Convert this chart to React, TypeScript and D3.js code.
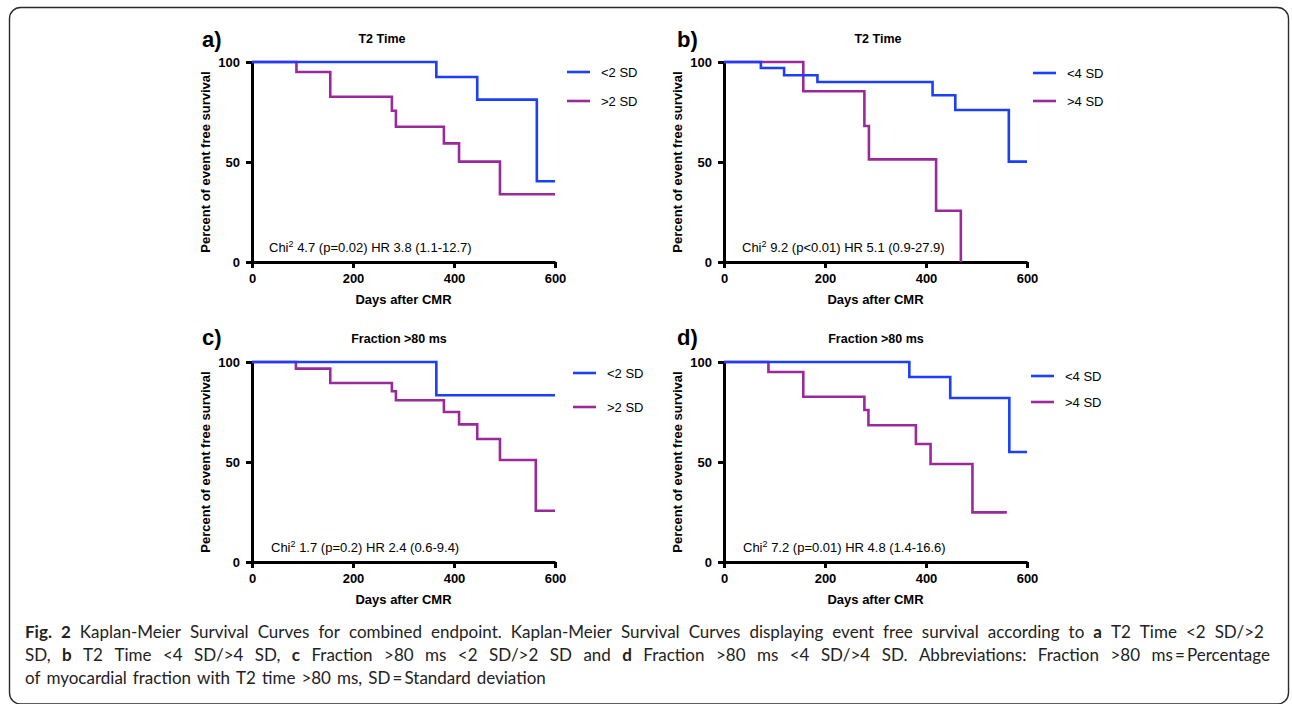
import React, { useEffect, useRef } from 'react';
import * as d3 from 'd3';

// ---- data ----
const xTicks = [0, 200, 400, 600];
const yTicks = [0, 50, 100];

// [days, percent event free survival] step points
const aLow: [number, number][] = [[0, 100], [365, 92.5], [446, 81.2], [564, 40.4], [600, 40.4]];
const aHigh: [number, number][] = [[0, 100], [88, 95], [155, 82.6], [277, 75.6], [285, 67.6], [380, 59.3], [410, 50.2], [491, 33.9], [600, 33.9]];
const bLow: [number, number][] = [[0, 100], [73, 97], [119, 93.4], [185, 90], [413, 83.4], [458, 76], [564, 50.2], [600, 50.2]];
const bHigh: [number, number][] = [[0, 100], [157, 85.4], [278, 68], [287, 51.3], [420, 25.6], [469, 0], [469, 0]];
const cLow: [number, number][] = [[0, 100], [365, 83.4], [600, 83.4]];
const cHigh: [number, number][] = [[0, 100], [87, 96.7], [155, 89.5], [277, 85.4], [285, 80.9], [380, 75], [410, 68.8], [446, 61.5], [491, 51], [562, 25.6], [600, 25.6]];
const dLow: [number, number][] = [[0, 100], [367, 92.5], [448, 82], [565, 55], [600, 55]];
const dHigh: [number, number][] = [[0, 100], [88, 95], [157, 82.6], [278, 76], [286, 68.4], [380, 59], [409, 49], [492, 24.8], [560, 24.8]];

const panelLabels = ['a)', 'b)', 'c)', 'd)'];
const panelTitles = ['T2 Time', 'T2 Time', 'Fraction >80 ms', 'Fraction >80 ms'];
const legendLow = ['<2 SD', '<4 SD', '<2 SD', '<4 SD'];
const legendHigh = ['>2 SD', '>4 SD', '>2 SD', '>4 SD'];
const statTexts = [
  '4.7 (p=0.02) HR 3.8 (1.1-12.7)',
  '9.2 (p<0.01) HR 5.1 (0.9-27.9)',
  '1.7 (p=0.2) HR 2.4 (0.6-9.4)',
  '7.2 (p=0.01) HR 4.8 (1.4-16.6)',
];
const yAxisTitle = 'Percent of event free survival';
const xAxisTitle = 'Days after CMR';

type Word = { t: string; b?: boolean };
const captionLines: Word[][] = [
  [{ t: 'Fig.', b: true }, { t: '2', b: true }, { t: 'Kaplan-Meier' }, { t: 'Survival' }, { t: 'Curves' }, { t: 'for' }, { t: 'combined' }, { t: 'endpoint.' }, { t: 'Kaplan-Meier' }, { t: 'Survival' }, { t: 'Curves' }, { t: 'displaying' }, { t: 'event' }, { t: 'free' }, { t: 'survival' }, { t: 'according' }, { t: 'to' }, { t: 'a', b: true }, { t: 'T2' }, { t: 'Time' }, { t: '<2' }, { t: 'SD/>2' }],
  [{ t: 'SD,' }, { t: 'b', b: true }, { t: 'T2' }, { t: 'Time' }, { t: '<4' }, { t: 'SD/>4' }, { t: 'SD,' }, { t: 'c', b: true }, { t: 'Fraction' }, { t: '>80' }, { t: 'ms' }, { t: '<2' }, { t: 'SD/>2' }, { t: 'SD' }, { t: 'and' }, { t: 'd', b: true }, { t: 'Fraction' }, { t: '>80' }, { t: 'ms' }, { t: '<4' }, { t: 'SD/>4' }, { t: 'SD.' }, { t: 'Abbreviations:' }, { t: 'Fraction' }, { t: '>80' }, { t: 'ms\u2009=\u2009Percentage' }],
  [{ t: 'of' }, { t: 'myocardial' }, { t: 'fraction' }, { t: 'with' }, { t: 'T2' }, { t: 'time' }, { t: '>80' }, { t: 'ms,' }, { t: 'SD\u2009=\u2009Standard' }, { t: 'deviation' }],
];

const seriesData = [
  { low: aLow, high: aHigh },
  { low: bLow, high: bHigh },
  { low: cLow, high: cHigh },
  { low: dLow, high: dHigh },
];

// ---- layout / style ----
const BLUE = '#1c3ffc';
const PURPLE = '#9a2a9c';
const FONT = '"Liberation Sans", Arial, Helvetica, sans-serif';
const CAP_FONT = 'Lato, "Open Sans", sans-serif';
const PW = 303;
const PH = 200;
const layout = [
  { left: 252, top: 62, lab: [202, 47], title: [382, 43], leg: [12, 10, 39], stat: [17, 190], ylab: 205 },
  { left: 724, top: 62, lab: [677, 47], title: [878, 43], leg: [6, 11, 39], stat: [18, 190], ylab: 677 },
  { left: 252, top: 362, lab: [202, 345], title: [399, 343], leg: [18, 11, 45], stat: [19, 190], ylab: 205 },
  { left: 724, top: 362, lab: [677, 345], title: [876, 343], leg: [4, 14, 40], stat: [19, 190], ylab: 677 },
];

export default function App() {
  const ref = useRef<SVGSVGElement>(null);
  useEffect(() => {
    const svg = d3.select(ref.current);
    svg.selectAll('*').remove();

    svg.append('rect').attr('x', 9.5).attr('y', 7.5).attr('width', 1279).attr('height', 696.5)
      .attr('rx', 11).attr('fill', 'none').attr('stroke', '#2a2a2a').attr('stroke-width', 1.4);

    layout.forEach((L, i) => {
      const x = d3.scaleLinear().domain([0, 600]).range([L.left, L.left + PW]);
      const y = d3.scaleLinear().domain([0, 100]).range([L.top + PH, L.top]);
      const g = svg.append('g');

      // axes
      const ya = g.append('g').attr('transform', `translate(${L.left},0)`)
        .call(d3.axisLeft(y).tickValues(yTicks).tickSize(6).tickSizeOuter(0).tickPadding(6).tickFormat(d3.format('d')));
      const xa = g.append('g').attr('transform', `translate(0,${L.top + PH})`)
        .call(d3.axisBottom(x).tickValues(xTicks).tickSize(6).tickSizeOuter(0).tickPadding(6).tickFormat(d3.format('d')));
      [ya, xa].forEach((a) => {
        a.select('.domain').attr('stroke', '#000').attr('stroke-width', 3);
        a.selectAll('.tick line').attr('stroke', '#000').attr('stroke-width', 3);
        a.selectAll('.tick text').attr('fill', '#000').style('font-family', FONT).style('font-weight', 'bold').style('font-size', '13px');
      });

      // curves
      const line = d3.line<[number, number]>().x((d) => x(d[0])).y((d) => y(d[1])).curve(d3.curveStepAfter);
      const sd = seriesData[i];
      g.append('path').attr('d', line(sd.high)!).attr('fill', 'none').attr('stroke', PURPLE).attr('stroke-width', 2.6);
      g.append('path').attr('d', line(sd.low)!).attr('fill', 'none').attr('stroke', BLUE).attr('stroke-width', 2.6);

      // texts
      g.append('text').attr('x', L.lab[0]).attr('y', L.lab[1]).text(panelLabels[i])
        .style('font-family', FONT).style('font-weight', 'bold').style('font-size', '22px');
      g.append('text').attr('x', L.title[0]).attr('y', L.title[1]).attr('text-anchor', 'middle').text(panelTitles[i])
        .style('font-family', FONT).style('font-weight', 'bold').style('font-size', '12.5px');
      g.append('text').attr('transform', `translate(${L.ylab},${L.top + PH / 2}) rotate(-90)`).attr('text-anchor', 'middle')
        .attr('dy', '0.35em').text(yAxisTitle)
        .style('font-family', FONT).style('font-weight', 'bold').style('font-size', '13px');
      g.append('text').attr('x', L.left + PW / 2).attr('y', L.top + PH + 42).attr('text-anchor', 'middle').text(xAxisTitle)
        .style('font-family', FONT).style('font-weight', 'bold').style('font-size', '13px');

      const st = g.append('text').attr('x', L.left + L.stat[0]).attr('y', L.top + L.stat[1])
        .style('font-family', FONT).style('font-size', '13px');
      st.append('tspan').text('Chi');
      st.append('tspan').attr('dy', -5).style('font-size', '9px').text('2');
      st.append('tspan').attr('dy', 5).text(' ' + statTexts[i]);

      // legend
      const lx = L.left + PW + L.leg[0];
      [[legendLow[i], BLUE, L.leg[1]], [legendHigh[i], PURPLE, L.leg[2]]].forEach(([lab, col, dy]) => {
        const yy = L.top + (dy as number);
        g.append('line').attr('x1', lx).attr('x2', lx + 23).attr('y1', yy).attr('y2', yy)
          .attr('stroke', col as string).attr('stroke-width', 2.6);
        g.append('text').attr('x', lx + 34).attr('y', yy).attr('dy', '0.35em').text(lab as string)
          .style('font-family', FONT).style('font-size', '13px');
      });
    });

    // caption (justified)
    const capX = 25;
    const capRight = [1264, 1270, null];
    const baselines = [638, 661, 684];
    captionLines.forEach((words, li) => {
      const nodes = words.map((w) =>
        svg.append('text').attr('y', baselines[li]).text(w.t)
          .style('font-family', CAP_FONT).style('font-size', '17px')
          .style('font-weight', w.b ? 'bold' : 'normal').attr('fill', '#222'));
      const widths = nodes.map((n) => (n.node() as SVGTextElement).getComputedTextLength());
      const total = widths.reduce((a, b) => a + b, 0);
      const right = capRight[li];
      const gap = right != null ? (right - capX - total) / (words.length - 1) : 6;
      let cx = capX;
      nodes.forEach((n, k) => { n.attr('x', cx); cx += widths[k] + gap; });
    });
  }, []);
  return (
    <svg ref={ref} width={1292} height={704}
      style={{ position: 'absolute', left: 0, top: 0, background: '#fff', display: 'block' }} />
  );
}
